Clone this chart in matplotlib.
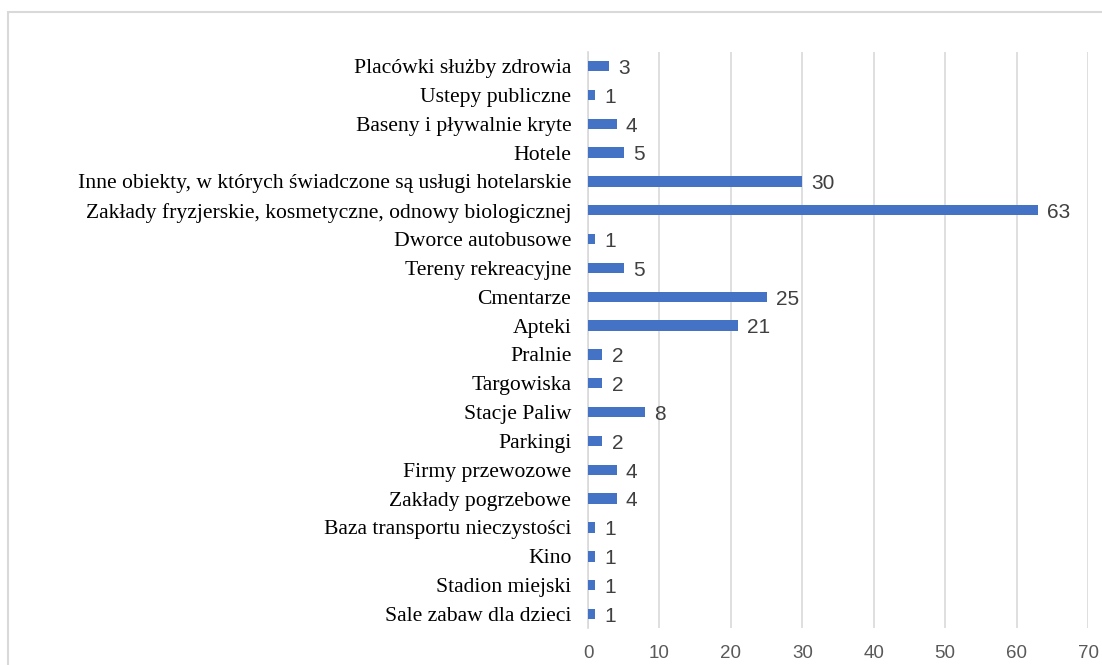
import matplotlib.pyplot as plt
from matplotlib.patches import Rectangle

categories = [
    "Placówki służby zdrowia",
    "Ustepy publiczne",
    "Baseny i pływalnie kryte",
    "Hotele",
    "Inne obiekty, w których świadczone są usługi hotelarskie",
    "Zakłady fryzjerskie, kosmetyczne, odnowy biologicznej",
    "Dworce autobusowe",
    "Tereny rekreacyjne",
    "Cmentarze",
    "Apteki",
    "Pralnie",
    "Targowiska",
    "Stacje Paliw",
    "Parkingi",
    "Firmy przewozowe",
    "Zakłady pogrzebowe",
    "Baza transportu nieczystości",
    "Kino",
    "Stadion miejski",
    "Sale zabaw dla dzieci",
]
values = [3, 1, 4, 5, 30, 63, 1, 5, 25, 21, 2, 2, 8, 2, 4, 4, 1, 1, 1, 1]
xticks = [0, 10, 20, 30, 40, 50, 60, 70]

fig = plt.figure(figsize=(11.02, 6.65), dpi=100)
ax = fig.add_axes([0.5336, 0.055, 0.4537, 0.8674])

# light frame around the chart area
fig.patches.append(Rectangle((8 / 1102, -0.1), 1.2, 1 - 12 / 665 + 0.1,
                             transform=fig.transFigure, fill=False,
                             edgecolor="#d9d9d9", linewidth=1.5))

ypos = list(range(len(categories)))
ax.barh(ypos, values, height=0.36, color="#4472c4", zorder=3)
ax.set_ylim(len(categories) - 0.5, -0.5)
ax.set_xlim(0, 70)
ax.set_xticks(xticks)

for y, v in zip(ypos, values):
    ax.text(v + 1.3, y + 0.08, str(v), va="center", ha="left", fontsize=15,
            color="#404040", family="Liberation Sans")

ax.set_yticks(ypos)
ax.set_yticklabels(categories, family="Liberation Serif", fontsize=15.6,
                   color="#000000")
ax.tick_params(axis="y", length=0, pad=12)
ax.tick_params(axis="x", length=0, pad=12, labelsize=13.5, labelcolor="#595959")
for lbl in ax.get_xticklabels():
    lbl.set_family("Liberation Sans")

ax.grid(axis="x", color="#d9d9d9", linewidth=1.2, zorder=0)
for s in ["top", "right", "bottom"]:
    ax.spines[s].set_visible(False)
ax.spines["left"].set_color("#d9d9d9")
ax.spines["left"].set_linewidth(1.2)

fig.savefig("out.png", dpi=100)
